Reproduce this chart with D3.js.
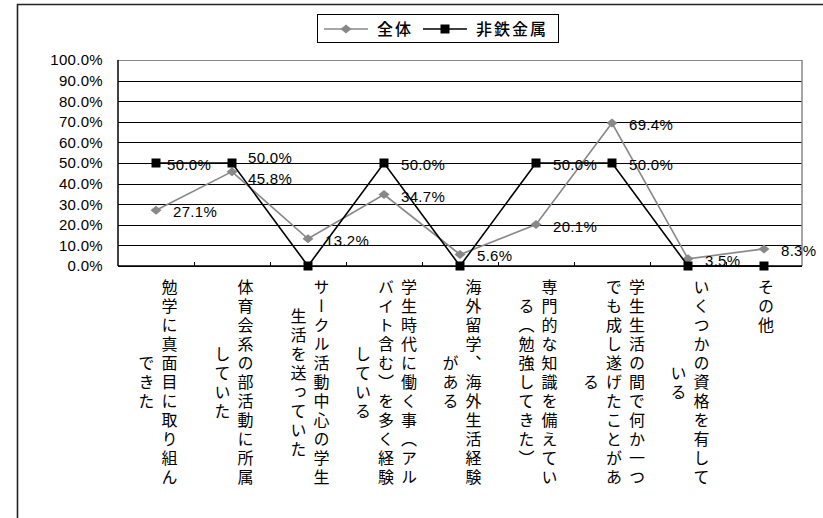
<!DOCTYPE html>
<html>
<head>
<meta charset="utf-8">
<script src="https://cdn.jsdelivr.net/npm/d3@7"></script>
<style>
  body { margin: 0; background: #fff; }
  svg text { font-family: "Liberation Sans", Arial, sans-serif; fill: #000; }
  svg text.jp { font-family: "Noto Sans CJK JP", sans-serif; }
</style>
</head>
<body>
<svg id="chart"></svg>
<script>
// category labels, one string per vertical column (right to left)
const categories = [
  ['勉学に真面目に取り組ん', 'できた'],
  ['体育会系の部活動に所属', 'していた'],
  ['サークル活動中心の学生', '生活を送っていた'],
  ['学生時代に働く事（アル', 'バイト含む）を多く経験', 'している'],
  ['海外留学、海外生活経験', 'がある'],
  ['専門的な知識を備えてい', 'る（勉強してきた）'],
  ['学生生活の間で何か一つ', 'でも成し遂げたことがあ', 'る'],
  ['いくつかの資格を有して', 'いる'],
  ['その他']
];
const seriesNames = ['全体', '非鉄金属'];
const zentai = [27.1, 45.8, 13.2, 34.7, 5.6, 20.1, 69.4, 3.5, 8.3];
const hitetsu = [50.0, 50.0, 0, 50.0, 0, 50.0, 50.0, 0, 0];
const yTicks = [0, 10, 20, 30, 40, 50, 60, 70, 80, 90, 100];

const W = 823, H = 518;
const plot = {left: 118, right: 802, top: 60, bottom: 266};

const svg = d3.select('#chart')
    .attr('width', W)
    .attr('height', H);

// outer chart border (runs off the right and bottom edges)
svg.append('path')
    .attr('d', `M17.5,${H + 2}V4.5H${W + 2}`)
    .attr('fill', 'none')
    .attr('stroke', '#222')
    .attr('stroke-width', 1.6);

const xScale = d3.scaleBand()
    .domain(d3.range(categories.length))
    .range([plot.left, plot.right]);

const yScale = d3.scaleLinear()
    .domain([0, 100])
    .range([plot.bottom, plot.top]);

const cx = i => xScale(i) + xScale.bandwidth() / 2;

// gridlines + y labels
const yAxis = d3.axisLeft(yScale)
    .tickValues(yTicks)
    .tickSize(-(plot.right - plot.left))
    .tickPadding(15)
    .tickFormat(d => d.toFixed(1) + '%');

svg.append('g')
    .attr('transform', `translate(${plot.left},0)`)
    .call(yAxis)
    .call(g => g.select('.domain').remove())
    .call(g => g.selectAll('.tick line')
        .attr('stroke', d => d === 100 ? '#888' : '#000')
        .attr('shape-rendering', 'crispEdges'))
    .call(g => g.selectAll('.tick text')
        .attr('font-size', 15)
        .attr('font-family', '"Liberation Sans", Arial, sans-serif')
        .attr('letter-spacing', 0.3));

// plot frame: right side grey, left/bottom black
svg.append('line')
    .attr('x1', plot.right).attr('x2', plot.right)
    .attr('y1', plot.top).attr('y2', plot.bottom)
    .attr('stroke', '#888').attr('stroke-width', 1.5);
svg.append('line')
    .attr('x1', plot.left).attr('x2', plot.left)
    .attr('y1', plot.top).attr('y2', plot.bottom)
    .attr('stroke', '#000').attr('stroke-width', 1.5);
svg.append('line')
    .attr('x1', plot.left).attr('x2', plot.right)
    .attr('y1', plot.bottom).attr('y2', plot.bottom)
    .attr('stroke', '#000').attr('stroke-width', 1.5);

// category boundary ticks (pointing up)
svg.append('g')
  .selectAll('line')
  .data(d3.range(1, categories.length))
  .join('line')
    .attr('x1', i => Math.round(xScale(i)) + 0.5)
    .attr('x2', i => Math.round(xScale(i)) + 0.5)
    .attr('y1', plot.bottom)
    .attr('y2', plot.bottom - 4)
    .attr('stroke', '#000');

// vertical category labels
const pitch = 19, colGap = 23, labelTop = 279, jpSize = 16;
categories.forEach((cols, i) => {
  const maxLen = d3.max(cols, c => c.length);
  cols.forEach((txt, j) => {
    const x = cx(i) + 2 + (cols.length - 1) / 2 * colGap - j * colGap;
    svg.append('text')
        .attr('class', 'jp')
        .attr('x', x)
        .attr('y', labelTop + (maxLen - txt.length) * pitch / 2)
        .style('writing-mode', 'vertical-rl')
        .attr('font-size', jpSize)
        .attr('letter-spacing', pitch - jpSize)
        .text(txt);
  });
});

const line = d3.line()
    .x((d, i) => cx(i))
    .y(d => yScale(d));

const diamond = 'M0,-4.5L5.5,0L0,4.5L-5.5,0Z';
const square = 'M-4.5,-4.5H4.5V4.5H-4.5Z';

// 全体
svg.append('path')
    .datum(zentai)
    .attr('d', line)
    .attr('fill', 'none')
    .attr('stroke', '#888')
    .attr('stroke-width', 1.6);
svg.append('g')
  .selectAll('path')
  .data(zentai)
  .join('path')
    .attr('transform', (d, i) => `translate(${cx(i)},${yScale(d)})`)
    .attr('d', diamond)
    .attr('fill', '#888');

// 非鉄金属
svg.append('path')
    .datum(hitetsu)
    .attr('d', line)
    .attr('fill', 'none')
    .attr('stroke', '#000')
    .attr('stroke-width', 1.6);
svg.append('g')
  .selectAll('path')
  .data(hitetsu)
  .join('path')
    .attr('transform', (d, i) => `translate(${cx(i)},${yScale(d)})`)
    .attr('d', square)
    .attr('fill', '#000');

// data labels (some were nudged by hand in the original)
const nudgeGray = {1: [-1, 5]};
const nudgeBlack = {0: [-6, 0], 1: [-1, -7]};
function addLabels(values, nudge, skipZero) {
  values.forEach((v, i) => {
    if (skipZero && v === 0) return;
    const n = nudge[i] || [0, 0];
    svg.append('text')
        .attr('x', cx(i) + 17 + n[0])
        .attr('y', yScale(v) + 2 + n[1] + 5)
        .attr('font-size', 15)
        .attr('letter-spacing', 0.3)
        .text(v.toFixed(1) + '%');
  });
}
addLabels(zentai, nudgeGray, false);
addLabels(hitetsu, nudgeBlack, true);

// legend
const legend = svg.append('g');
legend.append('rect')
    .attr('x', 317.5).attr('y', 14.5)
    .attr('width', 241).attr('height', 28)
    .attr('fill', '#fff')
    .attr('stroke', '#000');
const legendItems = [
  {name: seriesNames[0], x: 324, color: '#888', mark: diamond},
  {name: seriesNames[1], x: 423, color: '#000', mark: square}
];
legendItems.forEach(it => {
  legend.append('line')
      .attr('x1', it.x).attr('x2', it.x + 44)
      .attr('y1', 29).attr('y2', 29)
      .attr('stroke', it.color)
      .attr('stroke-width', 1.6);
  legend.append('path')
      .attr('transform', `translate(${it.x + 22},29)`)
      .attr('d', it.mark)
      .attr('fill', it.color);
  legend.append('text')
      .attr('class', 'jp')
      .attr('x', it.x + 53)
      .attr('y', 35)
      .attr('font-size', 16)
      .attr('font-weight', 500)
      .attr('letter-spacing', 2)
      .text(it.name);
});
</script>
</body>
</html>
